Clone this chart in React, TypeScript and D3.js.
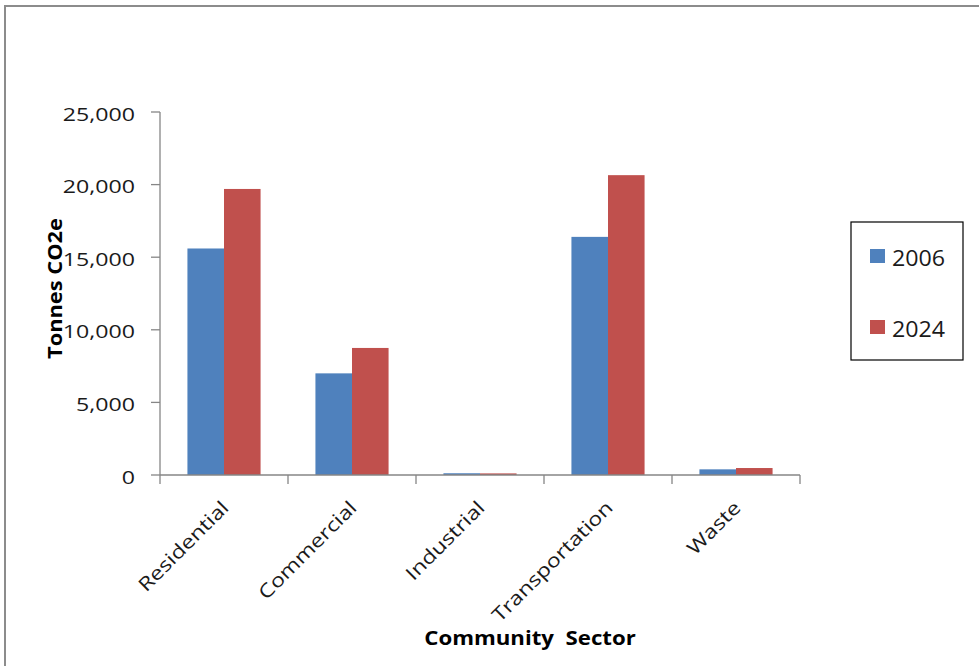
import React from "react";
import * as d3 from "d3";

// Community emissions by sector, tonnes CO2e
const sectors = ["Residential", "Commercial", "Industrial", "Transportation", "Waste"];
const seriesNames = ["2006", "2024"];
const values2006 = [15600, 7000, 120, 16400, 390];
const values2024 = [19700, 8750, 110, 20650, 480];
const seriesColors = ["#4F81BD", "#C0504D"];
const yTicks = [0, 5000, 10000, 15000, 20000, 25000];

const W = 979;
const H = 666;
const FONT = "'Open Sans', 'DejaVu Sans', sans-serif";
const AXIS_COLOR = "#868686";
const TEXT_COLOR = "#1a1a1a";

export default function App() {
  const plotLeft = 160;
  const plotRight = 800;
  const plotTop = 112;
  const plotBottom = 475;

  const x0 = d3.scaleBand<string>().domain(sectors).range([plotLeft, plotRight]).paddingInner(0).paddingOuter(0);
  const x1 = d3
    .scaleBand<string>()
    .domain(seriesNames)
    .range([0, x0.bandwidth()])
    .paddingInner(0)
    .paddingOuter(0.75);
  const y = d3.scaleLinear().domain([0, 25000]).range([plotBottom, plotTop]);
  const fmt = d3.format(",");

  const series = [values2006, values2024];
  const boundaries = [...sectors.map((s) => x0(s) as number), plotRight];

  return (
    <svg
      width={W}
      height={H}
      style={{ position: "absolute", left: 0, top: 0, background: "#fff" }}
      fontFamily={FONT}
    >
      <rect x={0} y={0} width={W} height={H} fill="#fff" />
      {/* outer frame */}
      <rect x={5} y={6} width={W + 20} height={H + 20} fill="none" stroke="#8c8c8c" strokeWidth={2} />

      {/* bars */}
      {series.map((vals, si) =>
        sectors.map((s, i) => {
          const bx = (x0(s) as number) + (x1(seriesNames[si]) as number);
          const by = y(vals[i]);
          return (
            <rect
              key={`${si}-${i}`}
              x={bx}
              y={by}
              width={x1.bandwidth()}
              height={plotBottom - by}
              fill={seriesColors[si]}
            />
          );
        })
      )}

      {/* y axis */}
      <line x1={plotLeft} x2={plotLeft} y1={plotTop} y2={plotBottom} stroke={AXIS_COLOR} strokeWidth={1.3} />
      {yTicks.map((t) => (
        <g key={t}>
          <line x1={plotLeft - 9} x2={plotLeft} y1={y(t)} y2={y(t)} stroke={AXIS_COLOR} strokeWidth={1.3} />
          <text
            transform={`translate(135,${y(t) + 8.5}) scale(1.22,1)`}
            textAnchor="end"
            fontSize={19}
            fill={TEXT_COLOR}
          >
            {fmt(t)}
          </text>
        </g>
      ))}

      {/* x axis */}
      <line x1={plotLeft} x2={plotRight} y1={plotBottom} y2={plotBottom} stroke={AXIS_COLOR} strokeWidth={1.3} />
      {boundaries.map((bx, i) => (
        <line key={i} x1={bx} x2={bx} y1={plotBottom} y2={plotBottom + 9} stroke={AXIS_COLOR} strokeWidth={1.3} />
      ))}
      {sectors.map((s) => {
        const cx = (x0(s) as number) + x0.bandwidth() / 2;
        return (
          <text
            key={s}
            transform={`translate(${cx + 6},${plotBottom + 34}) rotate(-45) scale(1.22,1)`}
            textAnchor="end"
            fontSize={19}
            fill={TEXT_COLOR}
          >
            {s}
          </text>
        );
      })}

      {/* axis titles */}
      <text
        transform={`translate(62,${(plotTop + plotBottom) / 2 - 5}) rotate(-90) scale(1.15,1)`}
        textAnchor="middle"
        fontSize={19}
        fontWeight="bold"
        fill="#000"
      >
        Tonnes CO2e
      </text>
      <text
        transform={`translate(530,645) scale(1.17,1)`}
        textAnchor="middle"
        fontSize={19}
        fontWeight="bold"
        fill="#000"
        style={{ whiteSpace: "pre" }}
      >
        {"Community  Sector"}
      </text>

      {/* legend */}
      <rect x={851} y={222} width={112} height={138} fill="#fff" stroke="#000" strokeWidth={1.2} />
      {seriesNames.map((name, i) => {
        const top = 249 + i * 71;
        return (
          <g key={name}>
            <rect x={870} y={top} width={15} height={14} fill={seriesColors[i]} />
            <text
              transform={`translate(892,${top + 16.5}) scale(1.08,1)`}
              fontSize={21.5}
              fill={TEXT_COLOR}
            >
              {name}
            </text>
          </g>
        );
      })}
    </svg>
  );
}
